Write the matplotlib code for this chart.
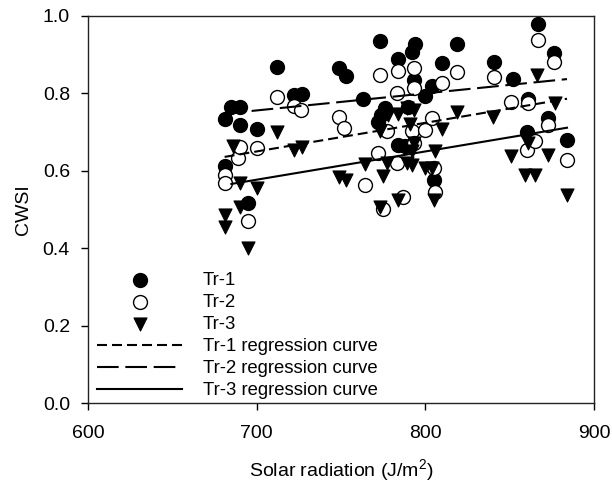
import numpy as np
import matplotlib
matplotlib.use("Agg")
import matplotlib.pyplot as plt

plt.rcParams['font.family'] = ['Liberation Sans', 'DejaVu Sans']
plt.rcParams['mathtext.fontset'] = 'custom'
plt.rcParams['mathtext.rm'] = 'Liberation Sans'
plt.rcParams['mathtext.it'] = 'Liberation Sans:italic'

# ---- data ----
tr1_x = [681, 681, 685, 690, 690, 695, 700, 712, 722, 727, 749, 753, 763, 773, 772, 774, 776,
         784, 784, 788, 790, 792, 793, 794, 800, 804, 805, 810, 819, 841, 852, 861, 860, 867,
         873, 876, 884]
tr1_y = [0.733, 0.613, 0.766, 0.766, 0.719, 0.517, 0.707, 0.869, 0.796, 0.798, 0.865, 0.845,
         0.786, 0.935, 0.727, 0.744, 0.761, 0.888, 0.667, 0.663, 0.764, 0.908, 0.835, 0.927,
         0.792, 0.818, 0.576, 0.878, 0.927, 0.882, 0.838, 0.785, 0.701, 0.979, 0.736, 0.904,
         0.680]

tr2_x = [681, 681, 689, 690, 695, 700, 712, 722, 726, 749, 752, 764, 772, 773, 775, 777, 783,
         783, 784, 787, 792, 793, 793, 793, 800, 804, 805, 806, 810, 819, 841, 851, 861, 860,
         865, 867, 873, 876, 884]
tr2_y = [0.589, 0.568, 0.632, 0.662, 0.469, 0.658, 0.790, 0.767, 0.757, 0.740, 0.710, 0.563,
         0.645, 0.848, 0.502, 0.704, 0.800, 0.619, 0.857, 0.533, 0.704, 0.865, 0.813, 0.671,
         0.705, 0.736, 0.606, 0.545, 0.828, 0.856, 0.842, 0.779, 0.776, 0.655, 0.677, 0.938,
         0.718, 0.882, 0.628]

tr3_x = [681, 681, 686, 690, 690, 695, 700, 712, 722, 727, 749, 753, 764, 773, 773, 775, 777,
         778, 784, 784, 789, 789, 791, 792, 793, 793, 792, 800, 804, 805, 806, 810, 819, 840,
         851, 859, 865, 861, 866, 873, 877, 884]
tr3_y = [0.486, 0.456, 0.664, 0.568, 0.507, 0.400, 0.555, 0.700, 0.654, 0.662, 0.585, 0.576,
         0.617, 0.702, 0.507, 0.587, 0.619, 0.744, 0.748, 0.525, 0.761, 0.619, 0.720, 0.615,
         0.757, 0.673, 0.650, 0.608, 0.608, 0.525, 0.650, 0.708, 0.753, 0.738, 0.639, 0.589,
         0.589, 0.673, 0.848, 0.641, 0.774, 0.537]

# regression lines: slope, intercept, x range
reg_slope = [0.00074, 0.00044, 0.00073]
reg_intercept = [0.132, 0.448, 0.066]
reg_xmin = [681, 697, 685]
reg_xmax = [884, 884, 884]
reg_labels = ['Tr-1 regression curve', 'Tr-2 regression curve', 'Tr-3 regression curve']

xticks = [600, 700, 800, 900]
yticks = [0.0, 0.2, 0.4, 0.6, 0.8, 1.0]

# ---- figure ----
fig = plt.figure(figsize=(6.12, 4.84), dpi=100)
ax = fig.add_axes([88/612, 1-403/484, (594-88)/612, (403-16)/484])

ax.scatter(tr1_x, tr1_y, s=100, marker='o', facecolor='black', edgecolor='black', linewidth=1.0, label='Tr-1', zorder=3)
ax.scatter(tr2_x, tr2_y, s=100, marker='o', facecolor='white', edgecolor='black', linewidth=1.0, label='Tr-2', zorder=3)
ax.scatter(tr3_x, tr3_y, s=88, marker='v', facecolor='black', edgecolor='black', linewidth=0.8, label='Tr-3', zorder=3)

styles = [(0, (4.8, 2.4)), (0, (10.4, 3.2)), '-']
for i in range(3):
    xs = np.array([reg_xmin[i], reg_xmax[i]])
    ys = reg_slope[i] * xs + reg_intercept[i]
    ax.plot(xs, ys, color='black', lw=1.5, linestyle=styles[i], label=reg_labels[i], zorder=4)

ax.set_xlim(600, 900)
ax.set_ylim(0.0, 1.0)
ax.set_xticks(xticks)
ax.set_yticks(yticks)
ax.set_yticklabels([f"{v:.1f}" for v in yticks])
ax.tick_params(direction='out', length=5, width=1, labelsize=14, top=False, right=False)
ax.tick_params(axis='x', pad=11)
ax.tick_params(axis='y', pad=8)
for s in ax.spines.values():
    s.set_linewidth(1.0)
    s.set_color('#222222')

ax.set_xlabel(r'Solar radiation (J/m$^{2}$)', fontsize=14, labelpad=11)
ax.set_ylabel('CWSI', fontsize=14, labelpad=8)

leg = ax.legend(loc='lower left', bbox_to_anchor=(0.0184, 0.01), frameon=False, fontsize=13.3,
                handlelength=4.6, handletextpad=1.1, labelspacing=0.27, borderpad=0.0,
                borderaxespad=0.0, scatterpoints=1)

fig.savefig('out.png', dpi=100)
